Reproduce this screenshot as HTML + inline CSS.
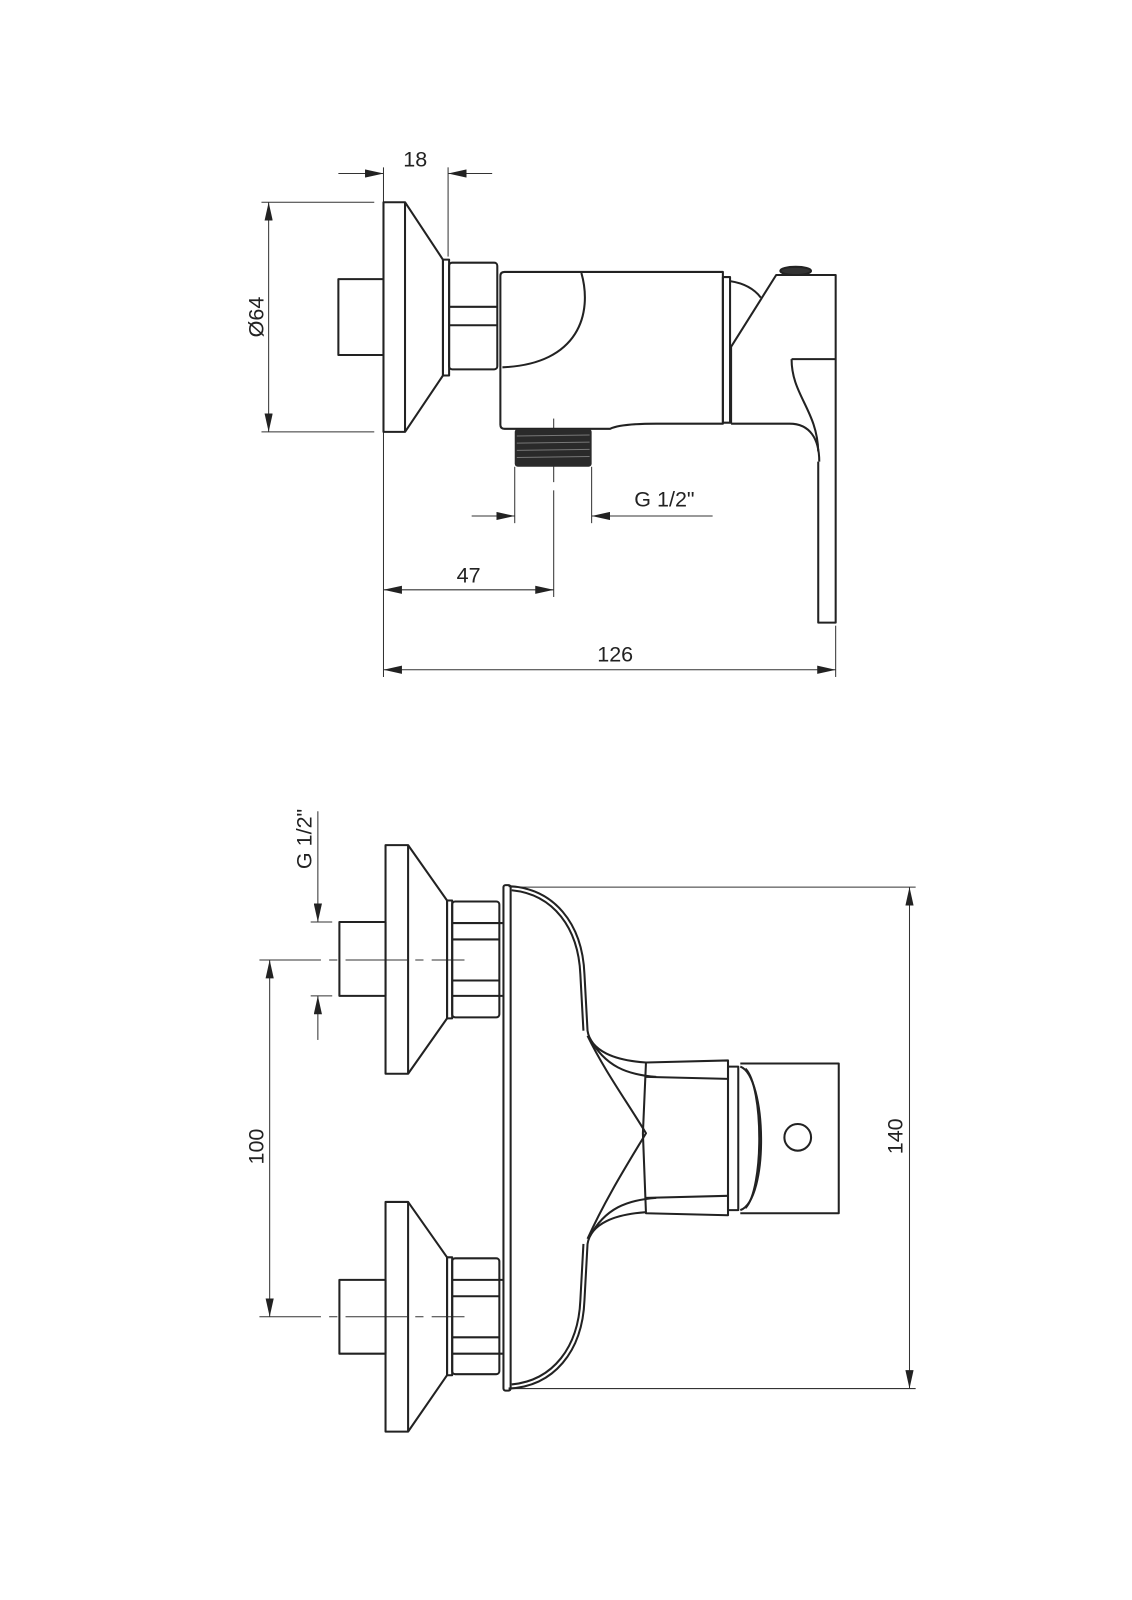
<!DOCTYPE html>
<html><head><meta charset="utf-8"><style>
html,body{margin:0;padding:0;background:#fff;}
svg{display:block;}
text{font-family:"Liberation Sans Narrow","Liberation Sans",sans-serif;font-size:21px;fill:#222;}
</style></head><body>
<svg width="1132" height="1600" viewBox="0 0 1104 1560" xmlns="http://www.w3.org/2000/svg">
<defs>
<marker id="a" markerUnits="userSpaceOnUse" markerWidth="18" markerHeight="8" refX="18" refY="4" orient="auto-start-reverse">
<path d="M0,0 L18,4 L0,8 z" fill="#222"/></marker>
</defs>
<g fill="none" stroke="#333" stroke-width="1">
<!-- TOP: dimensions -->
<line x1="330" y1="169" x2="374" y2="169" marker-end="url(#a)"/>
<line x1="480" y1="169" x2="437" y2="169" marker-end="url(#a)"/>
<line x1="374" y1="163" x2="374" y2="660"/>
<line x1="437" y1="163" x2="437" y2="250"/>
<line x1="255" y1="197" x2="365" y2="197"/>
<line x1="255" y1="421" x2="365" y2="421"/>
<line x1="262" y1="197" x2="262" y2="421" marker-start="url(#a)" marker-end="url(#a)"/>
<line x1="540" y1="408" x2="540" y2="470"/>
<line x1="540" y1="478" x2="540" y2="582"/>
<line x1="502" y1="455" x2="502" y2="510"/>
<line x1="577" y1="455" x2="577" y2="510"/>
<line x1="460" y1="503" x2="502" y2="503" marker-end="url(#a)"/>
<line x1="695" y1="503" x2="577" y2="503" marker-end="url(#a)"/>
<line x1="374" y1="575" x2="540" y2="575" marker-start="url(#a)" marker-end="url(#a)"/>
<line x1="815" y1="610" x2="815" y2="660"/>
<line x1="374" y1="653" x2="815" y2="653" marker-start="url(#a)" marker-end="url(#a)"/>
<!-- BOTTOM dims -->
<line x1="310" y1="791" x2="310" y2="899" marker-end="url(#a)"/>
<line x1="310" y1="1014" x2="310" y2="971" marker-end="url(#a)"/>
<line x1="303" y1="899" x2="324" y2="899"/>
<line x1="303" y1="971" x2="324" y2="971"/>
<line x1="253" y1="936" x2="453" y2="936" stroke-dasharray="60,8,8,8"/>
<line x1="253" y1="1284" x2="453" y2="1284" stroke-dasharray="60,8,8,8"/>
<line x1="263" y1="936" x2="263" y2="1284" marker-start="url(#a)" marker-end="url(#a)"/>
<line x1="498" y1="865" x2="893" y2="865"/>
<line x1="498" y1="1354" x2="893" y2="1354"/>
<line x1="887" y1="865" x2="887" y2="1354" marker-start="url(#a)" marker-end="url(#a)"/>
</g>
<g fill="none" stroke="#222" stroke-width="2" stroke-linejoin="round">
<!-- TOP drawing -->
<rect x="330" y="272" width="44" height="74"/>
<rect x="374" y="197" width="21" height="224"/>
<path d="M395,197 L432,253 L432,366 L395,421"/>
<rect x="432" y="253" width="6" height="113"/>
<rect x="438" y="256" width="47" height="104" rx="3"/>
<line x1="438" y1="299" x2="485" y2="299"/>
<line x1="438" y1="317" x2="485" y2="317"/>
<path d="M492,265 L705,265 L705,413 L640,413 Q605,413 595,418 L492,418 Q488,418 488,414 L488,269 Q488,265 492,265 Z"/>
<path d="M567,266 C578,305 565,355 490,358"/>
<rect x="705" y="270" width="7" height="142"/>
<path d="M712,274 Q732,277 742,290"/>
<path d="M713,413 L713,338 L757,268 L815,268 L815,607 L798,607 L798,450"/>
<path d="M713,413 L770,413 C790,413 799,428 799,450"/>
<path d="M772,350 L815,350"/>
<path d="M772,350 C772,385 797,400 798,440"/>
<ellipse cx="776" cy="264" rx="15" ry="4" fill="#333"/>
<!-- BOTTOM drawing: upper fitting -->
<rect x="331" y="899" width="45" height="72"/>
<rect x="376" y="824" width="22" height="223"/>
<path d="M398,824 L436,878 L436,993 L398,1047"/>
<rect x="436" y="878" width="5" height="115"/>
<rect x="441" y="879" width="46" height="113" rx="3"/>
<line x1="441" y1="900" x2="491" y2="900"/>
<line x1="441" y1="916" x2="487" y2="916"/>
<line x1="441" y1="956" x2="487" y2="956"/>
<line x1="441" y1="971" x2="491" y2="971"/>
<!-- lower fitting -->
<rect x="331" y="1248" width="45" height="72"/>
<rect x="376" y="1172" width="22" height="224"/>
<path d="M398,1172 L436,1226 L436,1341 L398,1396"/>
<rect x="436" y="1226" width="5" height="115"/>
<rect x="441" y="1227" width="46" height="113" rx="3"/>
<line x1="441" y1="1248" x2="491" y2="1248"/>
<line x1="441" y1="1264" x2="487" y2="1264"/>
<line x1="441" y1="1304" x2="487" y2="1304"/>
<line x1="441" y1="1320" x2="491" y2="1320"/>
<!-- body -->
<rect x="491" y="863" width="7" height="493" rx="2"/>
<path d="M496,864 C540,866 568,900 570,950 L573,1005 C576,1025 600,1034 630,1036"/>
<path d="M499,868 C540,872 564,905 566,950 L569,1005"/>
<path d="M573,1010 C590,1045 612,1075 630,1105 C612,1135 590,1170 573,1208"/>
<path d="M575,1012 C590,1040 612,1048 640,1050"/>
<path d="M575,1206 C590,1178 612,1170 640,1168"/>
<path d="M496,1354 C540,1352 568,1318 570,1268 L573,1213 C576,1193 600,1184 630,1182"/>
<path d="M499,1350 C540,1346 564,1313 566,1268 L569,1213"/>
<path d="M630,1036 L710,1034 L710,1185 L630,1183 L627,1105 Z"/>
<line x1="630" y1="1050" x2="710" y2="1052"/>
<line x1="630" y1="1168" x2="710" y2="1166"/>
<rect x="710" y="1040" width="10" height="140"/>
<path d="M722,1037 L818,1037 L818,1183 L722,1183"/>
<path d="M722,1040 C748,1050 750,1170 722,1180"/>
<path d="M727,1042 C745,1060 745,1160 727,1178"/>
<circle cx="778" cy="1109" r="13"/>
</g>
<!-- thread -->
<rect x="502" y="418" width="75" height="37" fill="#2a2a2a" rx="3"/>
<g stroke="#777" stroke-width="1">
<line x1="504" y1="425" x2="575" y2="424"/><line x1="504" y1="432" x2="575" y2="431"/>
<line x1="504" y1="439" x2="575" y2="438"/><line x1="504" y1="446" x2="575" y2="445"/>
</g>
<!-- texts -->
<text x="405" y="162" text-anchor="middle">18</text>
<text x="0" y="0" text-anchor="middle" transform="translate(257,309) rotate(-90)">Ø64</text>
<text x="648" y="494" text-anchor="middle">G 1/2"</text>
<text x="457" y="568" text-anchor="middle">47</text>
<text x="600" y="645" text-anchor="middle">126</text>
<text x="0" y="0" text-anchor="middle" transform="translate(304,818) rotate(-90)">G 1/2"</text>
<text x="0" y="0" text-anchor="middle" transform="translate(257,1118) rotate(-90)">100</text>
<text x="0" y="0" text-anchor="middle" transform="translate(880,1108) rotate(-90)">140</text>
</svg>
</body></html>
